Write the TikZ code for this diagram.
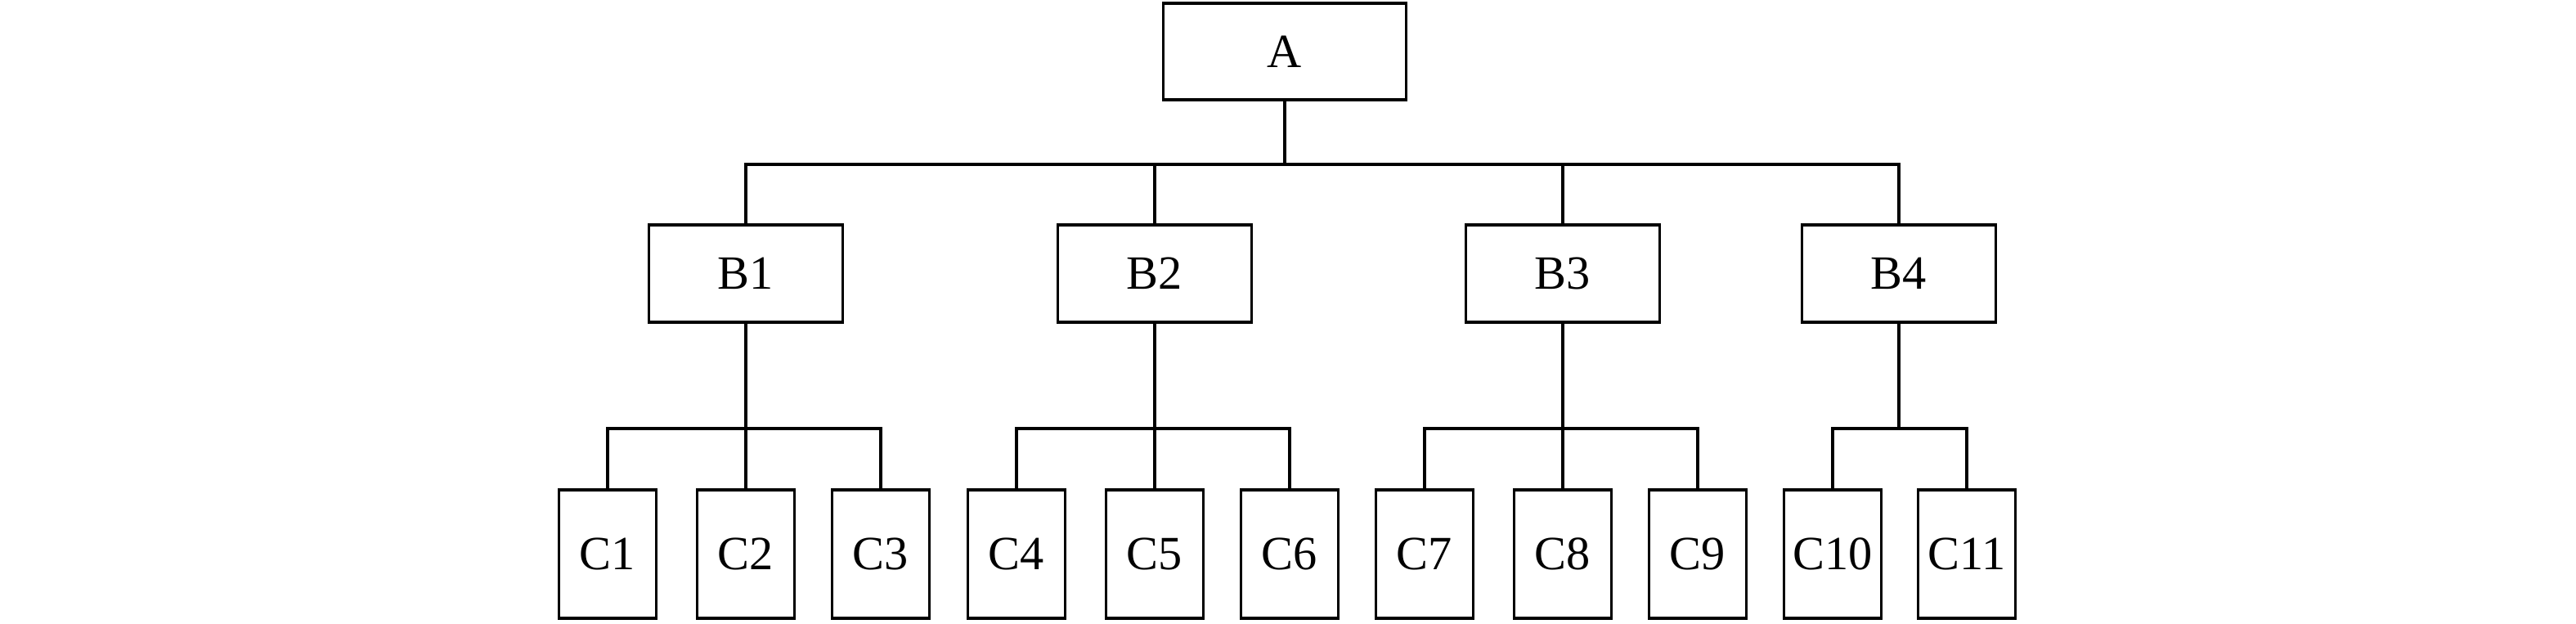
\documentclass[tikz,border=0pt]{standalone}
\usepackage{fontspec}
\setmainfont{Liberation Serif}
\usepackage{tikz}
\usetikzlibrary{positioning}

\begin{document}
\begin{tikzpicture}[node distance=1.65cm,on grid,line width=1.1pt,
    box/.style={draw,rectangle,inner sep=0pt,font=\fontsize{16.6}{20}\selectfont},
    top/.style={box,minimum width=2.97cm,minimum height=1.18cm},
    mid/.style={box,minimum width=2.37cm,minimum height=1.19cm},
    leaf/.style={box,minimum width=1.19cm,minimum height=1.57cm}]
	     \useasboundingbox (0,0) rectangle (31.5,-7.62);
	     \node[top] (A) at (15.71,-0.63) {A};
	     \node[mid] (B1) at (9.12,-3.345) {B1};
	     \node[mid] (B2) at (14.12,-3.345) {B2};
	     \node[mid] (B3) at (19.11,-3.345) {B3};
	     \node[mid] (B4) at (23.22,-3.345) {B4};

	     \node[leaf] (C2) [below=3.43cm of B1] {C2};
	     \node[leaf] (C1) [left=1.69cm of C2] {C1};
	     \node[leaf] (C3) [right=of C2] {C3};
	     \node[leaf] (C5) [below=3.43cm of B2] {C5};
	     \node[leaf] (C4) [left=1.69cm of C5] {C4};
	     \node[leaf] (C6) [right=of C5] {C6};
	     \node[leaf] (C8) [below=3.43cm of B3] {C8};
	     \node[leaf] (C7) [left=1.69cm of C8] {C7};
	     \node[leaf] (C9) [right=of C8] {C9};
	     \node[leaf] (C10) [below left=3.43cm and 0.81cm of B4] {C10};
	     \node[leaf] (C11) [below right=3.43cm and 0.83cm of B4] {C11};

	     \foreach \b in {B1,B2,B3,B4}
	       \draw (A.south) -- ++(0,-0.77) -| (\b.north);
	     \foreach \b/\c in {B1/C1,B1/C2,B1/C3,B2/C4,B2/C5,B2/C6,B3/C7,B3/C8,B3/C9,B4/C10,B4/C11}
	       \draw (\b.south) -- ++(0,-1.28) -| (\c.north);
\end{tikzpicture}
\end{document}
